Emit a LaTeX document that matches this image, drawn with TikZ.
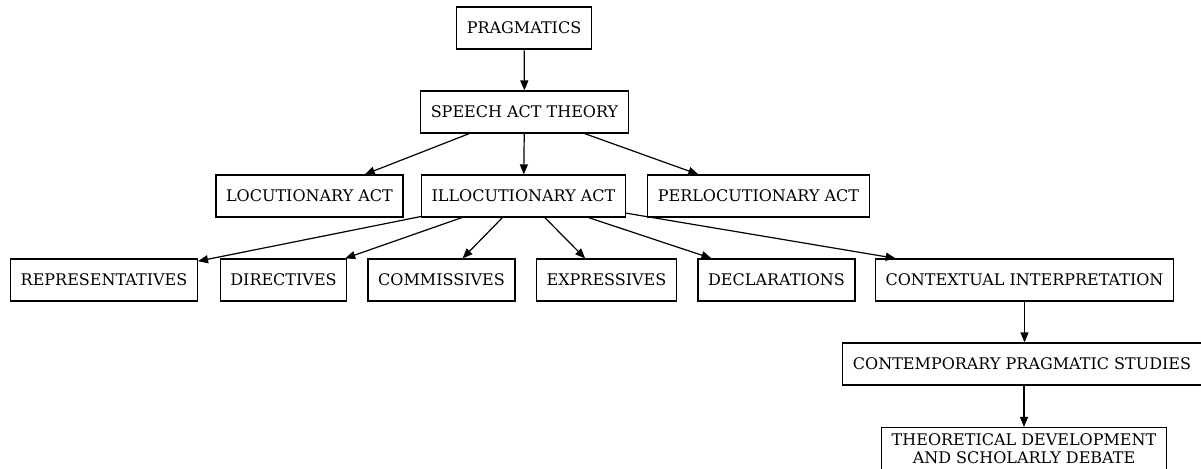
\documentclass[tikz,border=0pt]{standalone}
\usepackage{fontspec}
\setmainfont{DejaVu Serif}
\usetikzlibrary{arrows.meta}
\begin{document}
\begin{tikzpicture}[x=0.75pt,y=-0.75pt]
\tikzset{boite/.style={draw, rectangle, line width=0.9pt, minimum height=31.5pt, inner xsep=7.6pt, align=center, font=\fontsize{12pt}{13.8pt}\selectfont}}
\tikzset{fleche/.style={-{Triangle[length=7.5pt,width=6pt]}, line width=0.9pt}}
\useasboundingbox (0,0) rectangle (1201,468);
\clip (0,0) rectangle (1201,468);
\node[boite] (PR) at (524,28) {PRAGMATICS};
\node[boite] (SA) at (524.5,112) {SPEECH ACT THEORY};
\node[boite] (LA) at (309.5,196) {LOCUTIONARY ACT};
\node[boite] (IA) at (523.5,196) {ILLOCUTIONARY ACT};
\node[boite] (PA) at (758.5,196) {PERLOCUTIONARY ACT};
\node[boite] (RE) at (104,280) {REPRESENTATIVES};
\node[boite] (DI) at (283.5,280) {DIRECTIVES};
\node[boite] (CO) at (441.5,280) {COMMISSIVES};
\node[boite] (EX) at (606.5,280) {EXPRESSIVES};
\node[boite] (DE) at (776.5,280) {DECLARATIONS};
\node[boite] (CI) at (1024.5,280) {CONTEXTUAL INTERPRETATION};
\node[boite] (CP) at (1022,364) {CONTEMPORARY PRAGMATIC STUDIES};
\node[boite] (TD) at (1024,448.5) {THEORETICAL DEVELOPMENT\\AND SCHOLARLY DEBATE};
\draw[fleche] (PR) -- (SA);
\draw[fleche] (SA) -- (LA);
\draw[fleche] (SA) -- (IA);
\draw[fleche] (SA) -- (PA);
\draw[fleche] (IA) -- (RE);
\draw[fleche] (IA) -- (DI);
\draw[fleche] (IA) -- (CO);
\draw[fleche] (IA) -- (EX);
\draw[fleche] (IA) -- (DE);
\draw[fleche] (IA) -- (CI);
\draw[fleche] (CI.south) -- (CI.south |- CP.north);
\draw[fleche] (CP.south -| TD.north) -- (TD.north);
\end{tikzpicture}
\end{document}
